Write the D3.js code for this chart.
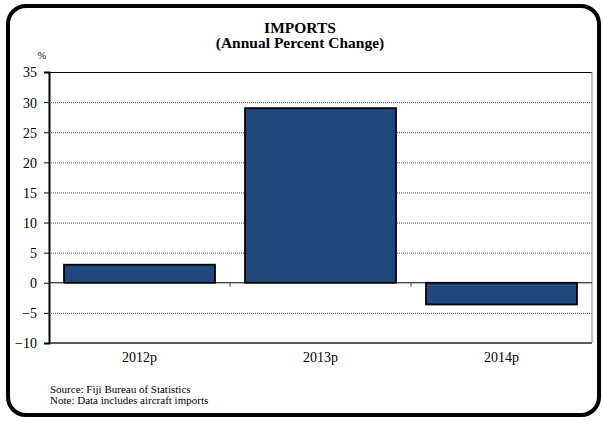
<!DOCTYPE html>
<html><head><meta charset="utf-8">
<script src="https://cdn.jsdelivr.net/npm/d3@7"></script>
<style>body{margin:0;background:#fff}svg{display:block}text{font-family:"Liberation Serif","Times New Roman",serif}</style>
</head><body>
<script>
const categories = ["2012p","2013p","2014p"];
const values = [3.0, 29.0, -3.6];
const yTicks = [-10,-5,0,5,10,15,20,25,30,35];
const titleLines = ["IMPORTS","(Annual Percent Change)"];
const notes = ["Source:  Fiji Bureau of Statistics","Note: Data includes aircraft imports"];

const W=603,H=421;
const svg=d3.select("body").append("svg").attr("width",W).attr("height",H);
svg.append("rect").attr("x",8).attr("y",6).attr("width",591).attr("height",409)
  .attr("rx",18).attr("ry",18).attr("fill","#fff").attr("stroke","#000").attr("stroke-width",4);

const L=49,R=592,T=72,B=343;
const x=d3.scaleBand().domain(categories).range([L,R]).paddingInner(0.166).paddingOuter(0.083);
const y=d3.scaleLinear().domain([-10,35]).range([B,T]);

// gridlines
svg.append("g").selectAll("line").data(yTicks.filter(d=>d!==-10&&d!==35&&d!==0)).join("line")
  .attr("x1",L).attr("x2",R).attr("y1",d=>y(d)+0.5).attr("y2",d=>y(d)+0.5)
  .attr("stroke","#555").attr("stroke-width",1).attr("stroke-dasharray","1,1");
// top and bottom frame
svg.append("line").attr("x1",L).attr("x2",R).attr("y1",y(35)+0.5).attr("y2",y(35)+0.5).attr("stroke","#000");
svg.append("line").attr("x1",L).attr("x2",R).attr("y1",y(-10)).attr("y2",y(-10)).attr("stroke","#222").attr("stroke-width",1.5);
svg.append("line").attr("x1",R).attr("x2",R).attr("y1",T).attr("y2",B).attr("stroke","#888");

// bars
svg.append("g").selectAll("rect").data(values).join("rect")
  .attr("x",(d,i)=>x(categories[i])).attr("width",x.bandwidth())
  .attr("y",d=>y(Math.max(0,d))).attr("height",d=>Math.abs(y(d)-y(0)))
  .attr("fill","#1F497D").attr("stroke","#000").attr("stroke-width",1.8);

// zero line
svg.append("line").attr("x1",L).attr("x2",R).attr("y1",y(0)).attr("y2",y(0)).attr("stroke","#000").attr("stroke-width",1);
// category boundary ticks
svg.append("g").selectAll("line").data([1,2]).join("line")
  .attr("x1",d=>L+d*(R-L)/3).attr("x2",d=>L+d*(R-L)/3).attr("y1",y(0)).attr("y2",y(0)+4)
  .attr("stroke","#444");

// y axis
const ya=svg.append("g").attr("transform",`translate(${L},0)`)
  .call(d3.axisLeft(y).tickValues(yTicks).tickSize(5).tickPadding(7).tickFormat(d3.format("d")));
ya.select(".domain").attr("stroke","#000").attr("stroke-width",2);
ya.selectAll(".tick line").attr("stroke","#000");
ya.selectAll("text").attr("font-size",14).attr("fill","#000").attr("dy","0.35em");

// x labels
svg.append("g").selectAll("text").data(categories).join("text")
  .attr("x",d=>x(d)+x.bandwidth()/2).attr("y",362).attr("text-anchor","middle")
  .attr("font-size",14).text(d=>d);

// title
svg.append("g").selectAll("text").data(titleLines).join("text")
  .attr("x",300).attr("y",(d,i)=>32.5+i*15.5).attr("text-anchor","middle")
  .attr("font-size",15.5).attr("font-weight","bold").text(d=>d);
svg.append("text").attr("x",42).attr("y",59).attr("text-anchor","middle").attr("font-size",10).text("%");

svg.append("g").selectAll("text").data(notes).join("text")
  .attr("x",50).attr("y",(d,i)=>393+i*11).attr("font-size",11).text(d=>d);
</script>
</body></html>
